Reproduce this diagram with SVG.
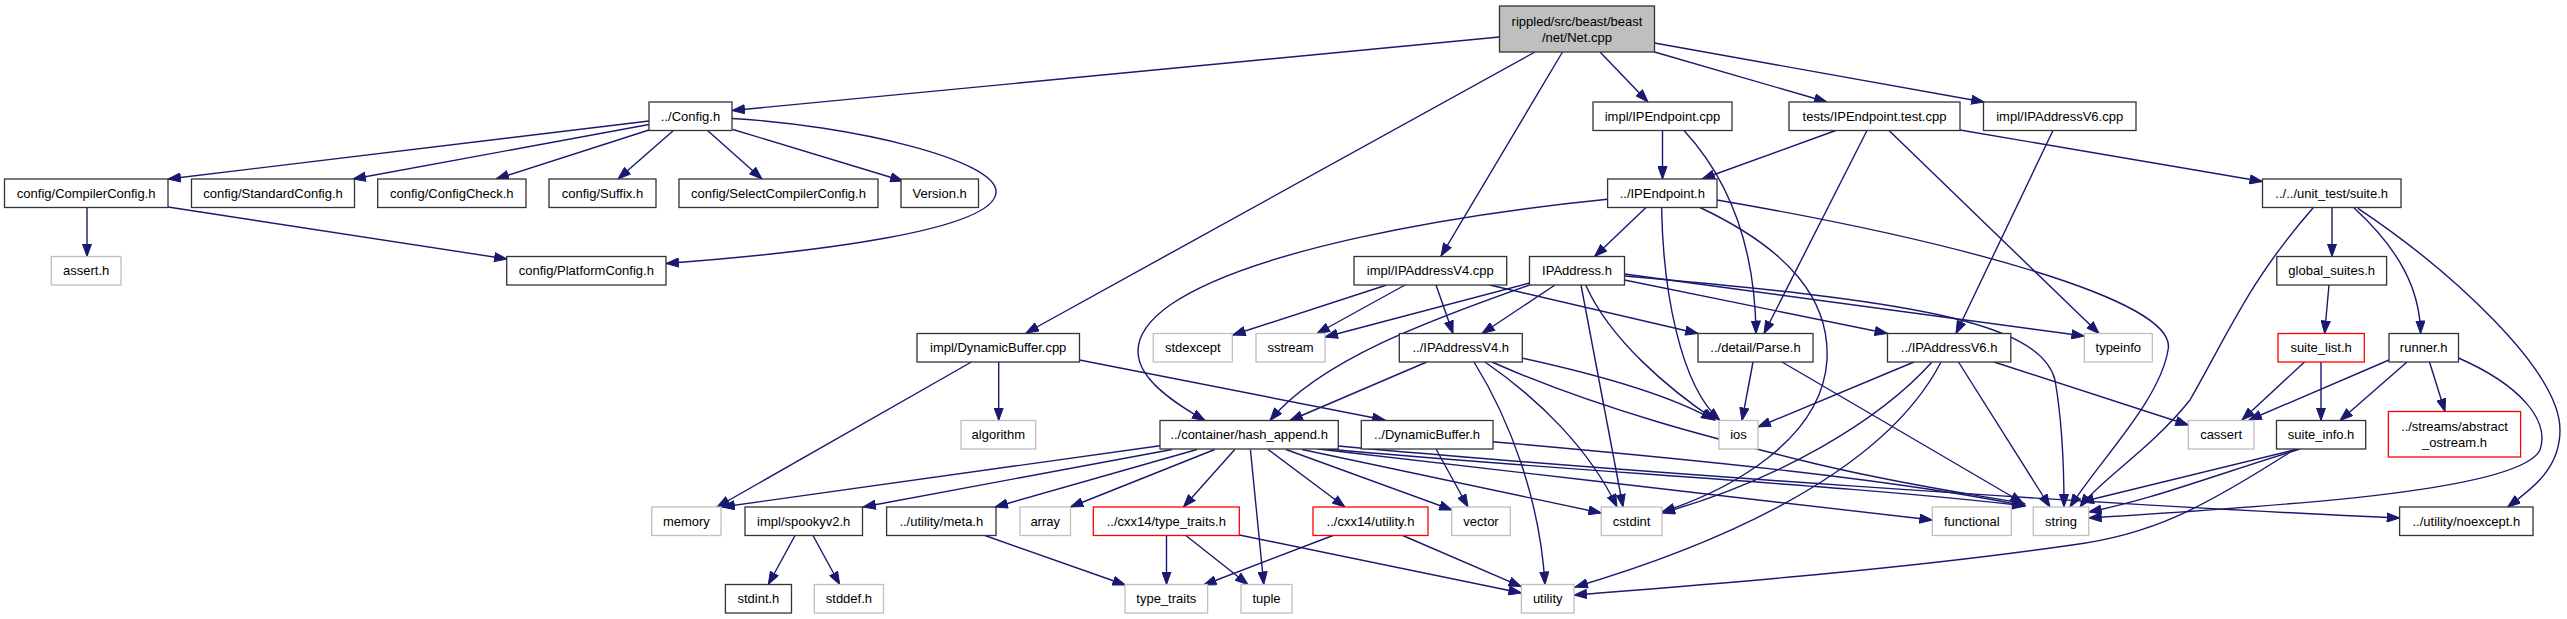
<svg xmlns="http://www.w3.org/2000/svg" width="2567" height="619" viewBox="0 0 2567 619">
<defs>
<style>
rect{fill:#fff;stroke-width:1.3}
.b{stroke:#333}
.g{stroke:#bfbfbf}
.r{stroke:#ff0000}
.root{fill:#bfbfbf;stroke:#333}
text{font-family:"Liberation Sans",Arial,sans-serif;font-size:13px;text-anchor:middle;fill:#000}
#edges path{fill:none;stroke:#191970;stroke-width:1.4;marker-end:url(#a)}
</style>
<marker id="a" markerUnits="userSpaceOnUse" markerWidth="14" markerHeight="10" refX="13" refY="5" orient="auto" viewBox="0 0 14 10">
<path d="M0.5,0.5 L13,5 L0.5,9.5 z" fill="#191970" stroke="#191970" stroke-width="1"/>
</marker>
</defs>
<rect x="0" y="0" width="2567" height="619" style="fill:#fff;stroke:none"/>
<g id="edges">
<path d="M1499.5,37 L732,110.5"/>
<path d="M1535,52 L1026,333"/>
<path d="M1562.5,52 L1441,256"/>
<path d="M1600,52 L1648,102"/>
<path d="M1654.5,52 L1827,102"/>
<path d="M1654.5,43 L1984,102"/>
<path d="M649,121 L168,179"/>
<path d="M649,124.5 L353,179"/>
<path d="M649,130 L496,179"/>
<path d="M674,130 L618,179"/>
<path d="M707,130 L762,179"/>
<path d="M733,129.5 L903,181"/>
<path d="M732,118.5 C850,125 1000,160 996,193 C992,230 820,252 666,263.5"/>
<path d="M87,207.5 L87,256.5"/>
<path d="M168,207 L507,259"/>
<path d="M1662.5,130.5 L1662.5,179"/>
<path d="M1684,130.5 C1725,175 1755,240 1756,333.5"/>
<path d="M1835.7,130.5 L1702,179"/>
<path d="M1867,130.5 L1764,333.5"/>
<path d="M1889,130.5 L2099,333.5"/>
<path d="M1960,130 L2262.5,181.5"/>
<path d="M2053,130.5 L1956,333.5"/>
<path d="M1607.6,199.3 C1450,215 1250,250 1170,305 C1100,355 1160,395 1205,420.5"/>
<path d="M1646,207.5 L1594.6,256.5"/>
<path d="M1661.6,207.5 C1663,290 1680,385 1720,420.5"/>
<path d="M1700,207.5 C1790,250 1830,300 1827,360 C1822,440 1730,490 1662,512"/>
<path d="M1717,200 C1950,240 2180,300 2168,350 C2160,400 2100,460 2070,507"/>
<path d="M1386.7,285 L1232.7,335"/>
<path d="M1405,285 L1317,333.5"/>
<path d="M1436,285 L1453,333.5"/>
<path d="M1489.7,285 L1698,333.5"/>
<path d="M1529.5,283 L1325,337"/>
<path d="M1529.5,285 C1430,320 1320,360 1270,420.5"/>
<path d="M1555,285 L1482,333.5"/>
<path d="M1581,285 L1623,507"/>
<path d="M1585.7,285 C1610,340 1670,390 1715,420"/>
<path d="M1624.5,280 L1887.5,333.5"/>
<path d="M1624.5,274 L2084.4,336"/>
<path d="M1624.5,276 C1900,300 2040,320 2055,380 C2062,420 2064,470 2064,507"/>
<path d="M1426.7,362 L1290,420.5"/>
<path d="M1522,358 C1600,375 1670,395 1714,420"/>
<path d="M1474,362 C1510,420 1540,500 1545,584.5"/>
<path d="M1485,362 C1540,400 1590,450 1617,507"/>
<path d="M1492,362 C1600,410 1720,440 1800,460 C1900,485 1980,495 2025,504"/>
<path d="M1753,362 L1742,420.5"/>
<path d="M1782,362 L2023,503"/>
<path d="M1914,362 L1758,427"/>
<path d="M1932,362 C1880,420 1780,480 1662,513"/>
<path d="M1941,362 C1880,480 1700,550 1575,587"/>
<path d="M1958.5,362 L2050,507"/>
<path d="M1994,362 L2188.3,425"/>
<path d="M1436,449 L1468,507"/>
<path d="M1493,441.7 C1700,460 1900,480 2025,506"/>
<path d="M971.4,362 L717,507"/>
<path d="M998.7,362 L998.7,420.5"/>
<path d="M1079.5,360 L1385,420"/>
<path d="M1160,445.7 L722,507"/>
<path d="M1172,449.5 L863,507"/>
<path d="M1197,449.5 L995,507"/>
<path d="M1214.7,449.5 L1070.5,507"/>
<path d="M1234.8,449.5 L1183.5,507"/>
<path d="M1250.4,449.5 L1263.8,584.5"/>
<path d="M1268,449.5 L1345,507"/>
<path d="M1286,449.5 L1452,510"/>
<path d="M1302,449.5 L1601.3,513"/>
<path d="M1318,449 C1500,470 1800,505 1932.3,520"/>
<path d="M1328,449 C1550,470 1850,485 2025,506"/>
<path d="M1338.3,446 C1600,470 2100,505 2399.6,518"/>
<path d="M1166.5,535.5 L1166.5,584.5"/>
<path d="M1185.8,535.5 L1248,584.5"/>
<path d="M1239.3,535 L1521.4,593"/>
<path d="M1333,535.5 L1203.6,585"/>
<path d="M1402.7,535.5 L1521.4,586.7"/>
<path d="M985,535.5 L1125.4,585"/>
<path d="M795,535.5 L768.3,584.5"/>
<path d="M813,535.5 L839.7,584.5"/>
<path d="M2332,207.5 L2332,256.5"/>
<path d="M2313.4,207.5 C2250,280 2230,330 2190,400 C2150,450 2100,480 2080,507"/>
<path d="M2353.6,207.5 C2400,250 2420,290 2420.6,333.5"/>
<path d="M2358,208.3 C2450,270 2560,370 2560,430 C2560,470 2530,490 2507.6,507"/>
<path d="M2329,285 L2324.6,333.5"/>
<path d="M2304.5,362 L2242,420"/>
<path d="M2321,362 L2321,420.5"/>
<path d="M2389,360 L2249,420"/>
<path d="M2407,362 L2340,420.5"/>
<path d="M2429.5,362 L2445,411.5"/>
<path d="M2458.5,358 C2520,385 2550,420 2540,450 C2520,490 2300,505 2088.7,518"/>
<path d="M2298,449 L2081,502"/>
<path d="M2300,449 C2200,480 2150,500 2088.7,512"/>
<path d="M2295,449 C2200,510 2150,535 2072,545 C1900,570 1700,585 1574,595"/>
</g>
<g id="n_net"><rect class="root" x="1499.5" y="6" width="155" height="46"/><text x="1577" y="25.5">rippled/src/beast/beast</text><text x="1577" y="41.5">/net/Net.cpp</text></g>
<g id="n_config"><rect class="b" x="649" y="102" width="83" height="28.5"/><text x="690.5" y="120.7">../Config.h</text></g>
<g id="n_ipendpoint_cpp"><rect class="b" x="1593" y="102" width="139" height="28.5"/><text x="1662.5" y="120.7">impl/IPEndpoint.cpp</text></g>
<g id="n_ipendpoint_test"><rect class="b" x="1789" y="102" width="171" height="28.5"/><text x="1874.5" y="120.7">tests/IPEndpoint.test.cpp</text></g>
<g id="n_ipv6_cpp"><rect class="b" x="1983.5" y="102" width="152.5" height="28.5"/><text x="2059.7" y="120.7">impl/IPAddressV6.cpp</text></g>
<g id="n_compilerconfig"><rect class="b" x="4.5" y="179" width="163.5" height="28.5"/><text x="86.2" y="197.7">config/CompilerConfig.h</text></g>
<g id="n_standardconfig"><rect class="b" x="191.5" y="179" width="163" height="28.5"/><text x="273" y="197.7">config/StandardConfig.h</text></g>
<g id="n_configcheck"><rect class="b" x="377.7" y="179" width="148.3" height="28.5"/><text x="451.8" y="197.7">config/ConfigCheck.h</text></g>
<g id="n_suffix"><rect class="b" x="549" y="179" width="107" height="28.5"/><text x="602.5" y="197.7">config/Suffix.h</text></g>
<g id="n_selectcompiler"><rect class="b" x="679" y="179" width="199" height="28.5"/><text x="778.5" y="197.7">config/SelectCompilerConfig.h</text></g>
<g id="n_version"><rect class="b" x="901" y="179" width="77.5" height="28.5"/><text x="939.7" y="197.7">Version.h</text></g>
<g id="n_ipendpoint_h"><rect class="b" x="1607.6" y="179" width="109.4" height="28.5"/><text x="1662.3" y="197.7">../IPEndpoint.h</text></g>
<g id="n_suite"><rect class="b" x="2262.5" y="179" width="138.5" height="28.5"/><text x="2331.7" y="197.7">../../unit_test/suite.h</text></g>
<g id="n_assert"><rect class="g" x="51.3" y="256.5" width="69.7" height="28.5"/><text x="86.2" y="275.2">assert.h</text></g>
<g id="n_platformconfig"><rect class="b" x="506.7" y="256.5" width="159.3" height="28.5"/><text x="586.3" y="275.2">config/PlatformConfig.h</text></g>
<g id="n_ipv4_cpp"><rect class="b" x="1354" y="256.5" width="152.7" height="28.5"/><text x="1430.3" y="275.2">impl/IPAddressV4.cpp</text></g>
<g id="n_ipaddress"><rect class="b" x="1529.5" y="256.5" width="95" height="28.5"/><text x="1577" y="275.2">IPAddress.h</text></g>
<g id="n_global_suites"><rect class="b" x="2276.8" y="256.5" width="109.8" height="28.5"/><text x="2331.7" y="275.2">global_suites.h</text></g>
<g id="n_dynbuf_cpp"><rect class="b" x="917" y="333.5" width="162.5" height="28.5"/><text x="998.2" y="352.2">impl/DynamicBuffer.cpp</text></g>
<g id="n_stdexcept"><rect class="g" x="1153.3" y="333.5" width="79" height="28.5"/><text x="1192.8" y="352.2">stdexcept</text></g>
<g id="n_sstream"><rect class="g" x="1256" y="333.5" width="69" height="28.5"/><text x="1290.5" y="352.2">sstream</text></g>
<g id="n_ipv4_h"><rect class="b" x="1399.3" y="333.5" width="123" height="28.5"/><text x="1460.8" y="352.2">../IPAddressV4.h</text></g>
<g id="n_parse"><rect class="b" x="1698" y="333.5" width="115" height="28.5"/><text x="1755.5" y="352.2">../detail/Parse.h</text></g>
<g id="n_ipv6_h"><rect class="b" x="1887.5" y="333.5" width="123.3" height="28.5"/><text x="1949.1" y="352.2">../IPAddressV6.h</text></g>
<g id="n_typeinfo"><rect class="g" x="2084.4" y="333.5" width="67.9" height="28.5"/><text x="2118.3" y="352.2">typeinfo</text></g>
<g id="n_suite_list"><rect class="r" x="2278" y="333.5" width="86.3" height="28.5"/><text x="2321.1" y="352.2">suite_list.h</text></g>
<g id="n_runner"><rect class="b" x="2389" y="333.5" width="69.5" height="28.5"/><text x="2423.7" y="352.2">runner.h</text></g>
<g id="n_algorithm"><rect class="g" x="961" y="420.5" width="74.7" height="28.5"/><text x="998.3" y="439.2">algorithm</text></g>
<g id="n_hash_append"><rect class="b" x="1160" y="420.5" width="178.3" height="28.5"/><text x="1249.1" y="439.2">../container/hash_append.h</text></g>
<g id="n_dynbuf_h"><rect class="b" x="1361.3" y="420.5" width="131.7" height="28.5"/><text x="1427.1" y="439.2">../DynamicBuffer.h</text></g>
<g id="n_ios"><rect class="g" x="1719" y="420.5" width="39" height="28.5"/><text x="1738.5" y="439.2">ios</text></g>
<g id="n_cassert"><rect class="g" x="2188.3" y="420.5" width="65.7" height="28.5"/><text x="2221.1" y="439.2">cassert</text></g>
<g id="n_suite_info"><rect class="b" x="2276.5" y="420.5" width="89.2" height="28.5"/><text x="2321.1" y="439.2">suite_info.h</text></g>
<g id="n_abstract_ostream"><rect class="r" x="2388.4" y="411.5" width="132.2" height="45.5"/><text x="2454.5" y="430.7">../streams/abstract</text><text x="2454.5" y="446.7">_ostream.h</text></g>
<g id="n_memory"><rect class="g" x="651.8" y="507" width="69.2" height="28.5"/><text x="686.4" y="525.7">memory</text></g>
<g id="n_spookyv2"><rect class="b" x="745" y="507" width="117.5" height="28.5"/><text x="803.7" y="525.7">impl/spookyv2.h</text></g>
<g id="n_meta"><rect class="b" x="886.6" y="507" width="109.4" height="28.5"/><text x="941.3" y="525.7">../utility/meta.h</text></g>
<g id="n_array"><rect class="g" x="1020" y="507" width="50.5" height="28.5"/><text x="1045.2" y="525.7">array</text></g>
<g id="n_cxx14_type_traits"><rect class="r" x="1093.3" y="507" width="146" height="28.5"/><text x="1166.3" y="525.7">../cxx14/type_traits.h</text></g>
<g id="n_cxx14_utility"><rect class="r" x="1313" y="507" width="115" height="28.5"/><text x="1370.5" y="525.7">../cxx14/utility.h</text></g>
<g id="n_vector"><rect class="g" x="1451.8" y="507" width="58.5" height="28.5"/><text x="1481" y="525.7">vector</text></g>
<g id="n_cstdint"><rect class="g" x="1601.3" y="507" width="60.7" height="28.5"/><text x="1631.6" y="525.7">cstdint</text></g>
<g id="n_functional"><rect class="g" x="1932.3" y="507" width="79" height="28.5"/><text x="1971.8" y="525.7">functional</text></g>
<g id="n_string"><rect class="g" x="2033.3" y="507" width="55.4" height="28.5"/><text x="2061" y="525.7">string</text></g>
<g id="n_noexcept"><rect class="b" x="2399.6" y="507" width="133.4" height="28.5"/><text x="2466.3" y="525.7">../utility/noexcept.h</text></g>
<g id="n_stdint"><rect class="b" x="725.4" y="584.5" width="66.1" height="28.5"/><text x="758.4" y="603.2">stdint.h</text></g>
<g id="n_stddef"><rect class="g" x="814.3" y="584.5" width="69.2" height="28.5"/><text x="848.9" y="603.2">stddef.h</text></g>
<g id="n_type_traits"><rect class="g" x="1125" y="584.5" width="82.6" height="28.5"/><text x="1166.3" y="603.2">type_traits</text></g>
<g id="n_tuple"><rect class="g" x="1241" y="584.5" width="51" height="28.5"/><text x="1266.5" y="603.2">tuple</text></g>
<g id="n_utility"><rect class="g" x="1521.4" y="584.5" width="52.6" height="28.5"/><text x="1547.7" y="603.2">utility</text></g>
</svg>
